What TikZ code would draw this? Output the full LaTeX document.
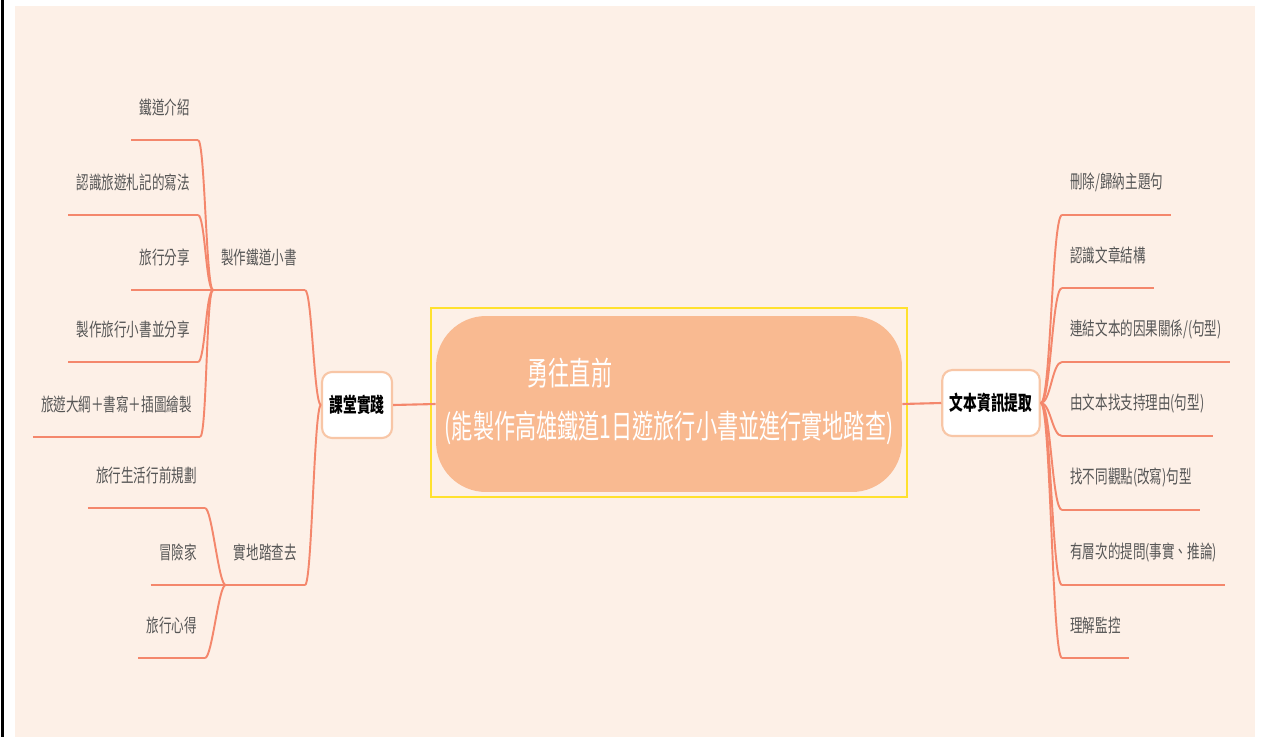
\documentclass[tikz,border=0pt]{standalone}
\usepackage{graphicx}
\usepackage{fontspec}
\newfontfamily\cjk{Noto Sans CJK TC}
\usetikzlibrary{calc}
\definecolor{bgc}{HTML}{FDF0E7}
\definecolor{pillc}{HTML}{F9BA91}
\definecolor{linec}{HTML}{F4876C}
\definecolor{boxc}{HTML}{F8C6A6}
\definecolor{selc}{HTML}{FFE12E}
\definecolor{txtc}{HTML}{555555}
\newcommand\sqz[1]{\scalebox{0.68}[1]{#1}}
\newcommand\ctrsq[1]{\scalebox{0.65}[1]{#1}}
\tikzset{
  pill/.style={fill=pillc, rounded corners=1cm, minimum width=9.32cm, minimum height=3.52cm, inner sep=0pt, text=white, font=\cjk\fontsize{18.5}{22}\selectfont},
  selbox/.style={draw=selc, line width=1.2pt},
  mainbox/.style={draw=boxc, line width=1.2pt, fill=white, rounded corners=0.2cm, inner xsep=0.15cm, minimum height=1.32cm, font=\cjk\bfseries\fontsize{11.5}{13}\selectfont},
  twig/.style={inner xsep=0.16cm, inner ysep=0pt, minimum height=1.28cm, text=txtc, font=\cjk\fontsize{10.5}{12}\selectfont},
  trunk/.style={draw=linec, line width=1.2pt},
  uline/.style={draw=linec, line width=1.6pt},
  bendl/.style={draw=linec, line width=1.1pt, out=180, in=0, out distance=0.14cm, in distance=0.14cm},
  bendr/.style={draw=linec, line width=1.1pt, out=0, in=180, out distance=0.2cm, in distance=0.2cm}
}
\begin{document}
\begin{tikzpicture}[x=0.02cm,y=-0.02cm]
\useasboundingbox (0,0) rectangle (1263,737);
\fill[bgc] (15,6) rectangle (1255,737);
\fill[black] (1,0) rectangle (4,737);
\node[pill] (ctr) at (669,404) {\begin{tabular}{@{}l@{}}\hspace{1.66cm}\ctrsq{勇往直前}\\[8pt]\ctrsq{(能製作高雄鐵道1日遊旅行小書並進行實地踏查)}\end{tabular}};
\draw[selbox] ($(ctr.north west)+(-5,-8)$) rectangle ($(ctr.south east)+(5,5)$);
\node[mainbox] (kt) at (357,405) {\sqz{課堂實踐}};
\node[mainbox] (wb) at (991,403) {\sqz{文本資訊提取}};
\draw[trunk] (ctr.west) -- (kt.east);
\draw[trunk] (ctr.east) -- (wb.west);
\node[twig, anchor=south east] (s1) at (305,290) {\sqz{製作鐵道小書}};
\node[twig, anchor=south east] (s2) at (305,585) {\sqz{實地踏查去}};
\draw[uline] (s1.south west) -- (s1.south east);
\draw[uline] (s2.south west) -- (s2.south east);
\draw[bendl] (kt.west) to (s1.south east);
\draw[bendl] (kt.west) to (s2.south east);
\node[twig, anchor=south east] (a1) at (198,140) {\sqz{鐵道介紹}};
\node[twig, anchor=south east] (a2) at (198,215) {\sqz{認識旅遊札記的寫法}};
\node[twig, anchor=south east] (a3) at (198,290) {\sqz{旅行分享}};
\node[twig, anchor=south east] (a4) at (198,362) {\sqz{製作旅行小書並分享}};
\node[twig, anchor=south east] (a5) at (200,437) {\sqz{旅遊大綱＋書寫＋插圖繪製}};
\node[twig, anchor=south east] (b1) at (205,508) {\sqz{旅行生活行前規劃}};
\node[twig, anchor=south east] (b2) at (205,585) {\sqz{冒險家}};
\node[twig, anchor=south east] (b3) at (205,658) {\sqz{旅行心得}};
\draw[uline] (a1.south west) -- (a1.south east);
\draw[uline] (a2.south west) -- (a2.south east);
\draw[uline] (a3.south west) -- (a3.south east);
\draw[uline] (a4.south west) -- (a4.south east);
\draw[uline] (a5.south west) -- (a5.south east);
\draw[uline] (b1.south west) -- (b1.south east);
\draw[uline] (b2.south west) -- (b2.south east);
\draw[uline] (b3.south west) -- (b3.south east);
\draw[bendl] (s1.south west) to (a1.south east);
\draw[bendl] (s1.south west) to (a2.south east);
\draw[bendl] (s1.south west) to (a3.south east);
\draw[bendl] (s1.south west) to (a4.south east);
\draw[bendl] (s1.south west) to (a5.south east);
\draw[bendl] (s2.south west) to (b1.south east);
\draw[bendl] (s2.south west) to (b2.south east);
\draw[bendl] (s2.south west) to (b3.south east);
\node[twig, anchor=south west] (c1) at (1062,215) {\sqz{刪除/歸納主題句}};
\node[twig, anchor=south west] (c2) at (1062,288) {\sqz{認識文章結構}};
\node[twig, anchor=south west] (c3) at (1062,362) {\sqz{連結文本的因果關係/(句型)}};
\node[twig, anchor=south west] (c4) at (1062,436) {\sqz{由文本找支持理由(句型)}};
\node[twig, anchor=south west] (c5) at (1062,510) {\sqz{找不同觀點(改寫)句型}};
\node[twig, anchor=south west] (c6) at (1062,585) {\sqz{有層次的提問(事實、推論)}};
\node[twig, anchor=south west] (c7) at (1062,658) {\sqz{理解監控}};
\draw[uline] (c1.south west) -- (c1.south east);
\draw[uline] (c2.south west) -- (c2.south east);
\draw[uline] (c3.south west) -- (c3.south east);
\draw[uline] (c4.south west) -- (c4.south east);
\draw[uline] (c5.south west) -- (c5.south east);
\draw[uline] (c6.south west) -- (c6.south east);
\draw[uline] (c7.south west) -- (c7.south east);
\draw[bendr] (wb.east) to (c1.south west);
\draw[bendr] (wb.east) to (c2.south west);
\draw[bendr] (wb.east) to (c3.south west);
\draw[bendr] (wb.east) to (c4.south west);
\draw[bendr] (wb.east) to (c5.south west);
\draw[bendr] (wb.east) to (c6.south west);
\draw[bendr] (wb.east) to (c7.south west);
\end{tikzpicture}
\end{document}
